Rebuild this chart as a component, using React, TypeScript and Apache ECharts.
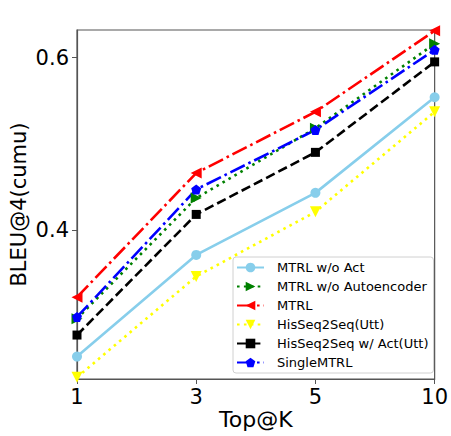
import React, { useEffect, useRef } from "react";
import * as echarts from "echarts";

const categories = ["1", "3", "5", "10"];
const mtrlWoAct = [0.253, 0.371, 0.443, 0.554];
const mtrlWoAuto = [0.297, 0.437, 0.518, 0.616];
const mtrl = [0.322, 0.466, 0.537, 0.631];
const hisSeqUtt = [0.229, 0.346, 0.421, 0.537];
const hisSeqActUtt = [0.278, 0.418, 0.490, 0.595];
const singleMtrl = [0.299, 0.447, 0.516, 0.609];
const yTicks = [0.4, 0.6];

const FONT = "DejaVu Sans";
const pentagon =
  "path://M0,-1 L0.951,-0.309 L0.588,0.809 L-0.588,0.809 L-0.951,-0.309 Z";

export default function App() {
  const ref = useRef<HTMLDivElement>(null);
  useEffect(() => {
    const chart = echarts.init(ref.current!, null, { renderer: "svg" });
    const lw = 2.6;
    const mk = (
      name: string,
      data: number[],
      color: string,
      type: any,
      symbol: string,
      rotate: number,
      size: number
    ) => ({
      name,
      type: "line",
      data,
      symbol,
      symbolRotate: rotate,
      symbolSize: size,
      showAllSymbol: true,
      lineStyle: { color, width: lw, type, cap: "butt" },
      itemStyle: { color, borderWidth: 0 },
      z: 3,
    });
    chart.setOption({
      animation: false,
      textStyle: { fontFamily: FONT },
      grid: {
        left: 77,
        right: 15,
        top: 30,
        bottom: 57,
        show: true,
        borderColor: "#555",
        borderWidth: 1.2,
        backgroundColor: "transparent",
      },
      legend: {
        orient: "vertical",
        left: 233,
        top: 257,
        padding: [4, 5, 4, 3],
        backgroundColor: "rgba(255,255,255,0.85)",
        borderColor: "#d0d0d0",
        borderWidth: 1,
        borderRadius: 3,
        itemWidth: 27,
        itemHeight: 12,
        itemGap: 6,
        textStyle: {
          fontFamily: FONT,
          fontSize: 13,
          color: "#000",
          padding: [0, 0, 0, 8],
        },
        data: [
          "MTRL w/o Act",
          "MTRL w/o Autoencoder",
          "MTRL",
          "HisSeq2Seq(Utt)",
          "HisSeq2Seq w/ Act(Utt)",
          "SingleMTRL",
        ],
      },
      xAxis: {
        type: "category",
        data: categories,
        boundaryGap: false,
        name: "Top@K",
        nameLocation: "middle",
        nameGap: 29,
        nameMoveOverlap: false,
        nameTextStyle: { fontFamily: FONT, fontSize: 22, color: "#000" },
        axisLine: { show: true, lineStyle: { color: "#555", width: 1.2 } },
        axisTick: { show: true, length: 5, lineStyle: { color: "#555" } },
        axisLabel: {
          fontFamily: FONT,
          fontSize: 21,
          color: "#000",
          margin: 7,
          interval: 0,
        },
        splitLine: { show: false },
      },
      yAxis: {
        type: "value",
        min: 0.227,
        max: 0.632,
        name: "BLEU@4(cumu)",
        nameLocation: "middle",
        nameGap: 48,
        nameMoveOverlap: false,
        nameTextStyle: { fontFamily: FONT, fontSize: 21, color: "#000" },
        axisLine: { show: true, lineStyle: { color: "#555", width: 1.2 } },
        axisTick: {
          show: true,
          length: 5,
          lineStyle: { color: "#555" },
          customValues: yTicks,
        },
        axisLabel: {
          fontFamily: FONT,
          fontSize: 21,
          color: "#000",
          margin: 8,
          customValues: yTicks,
          formatter: (v: number) => v.toFixed(1),
        },
        splitLine: { show: false },
      },
      series: [
        mk("MTRL w/o Act", mtrlWoAct, "#87ceeb", "solid", "circle", 0, 10),
        mk("MTRL w/o Autoencoder", mtrlWoAuto, "#008000", [2.6, 4.3], "triangle", -90, 11),
        mk("MTRL", mtrl, "#ff0000", [16, 4, 2.6, 4], "triangle", 90, 11),
        mk("HisSeq2Seq(Utt)", hisSeqUtt, "#ffff00", [2.6, 4.3], "triangle", 180, 11),
        mk("HisSeq2Seq w/ Act(Utt)", hisSeqActUtt, "#000000", [9.6, 4.2], "rect", 0, 9),
        mk("SingleMTRL", singleMtrl, "#0000ff", [16, 4, 2.6, 4], pentagon, 0, 10),
      ],
    });
    return () => chart.dispose();
  }, []);
  return (
    <div
      ref={ref}
      style={{ width: 451, height: 436, position: "absolute", left: 0, top: 0 }}
    />
  );
}
